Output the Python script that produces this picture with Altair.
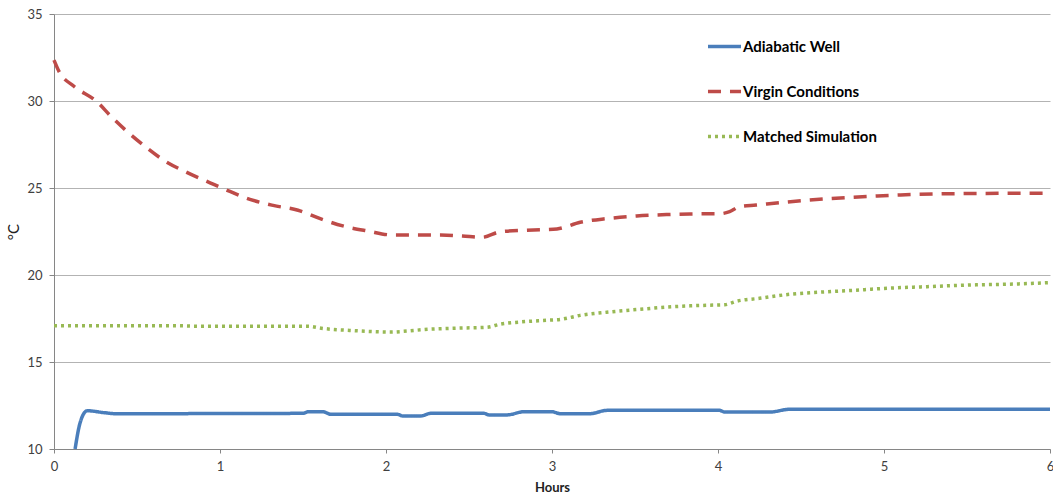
import altair as alt
import pandas as pd

# Adiabatic Well (hours, °C)
adiabatic_h = [0.127, 0.157, 0.20, 0.30, 0.37, 1.50, 1.53, 1.62, 1.67, 2.07, 2.10, 2.21,
               2.27, 2.59, 2.62, 2.73, 2.83, 3.00, 3.05, 3.23, 3.33, 4.01, 4.04, 4.31,
               4.43, 6.00]
adiabatic_t = [10.0, 11.5, 12.2, 12.09, 12.03, 12.05, 12.14, 12.14, 11.99, 11.99, 11.9, 11.9,
               12.05, 12.05, 11.96, 11.96, 12.14, 12.14, 12.03, 12.03, 12.22, 12.22, 12.12, 12.12,
               12.28, 12.28]

# Virgin Conditions
virgin_h = [0.00, 0.03, 0.12, 0.26, 0.34, 0.44, 0.56, 0.66, 0.80, 0.94, 1.06, 1.18, 1.32,
            1.47, 1.60, 1.74, 1.89, 2.04, 2.16, 2.33, 2.46, 2.58, 2.69, 2.89, 3.03, 3.17,
            3.33, 3.51, 3.69, 3.83, 4.01, 4.07, 4.13, 4.23, 4.37, 4.53, 4.67, 4.81, 4.96,
            5.10, 5.50, 6.00]
virgin_t = [32.35, 31.7, 30.85, 29.95, 29.15, 28.25, 27.3, 26.6, 25.9, 25.3, 24.8, 24.35, 24.0,
            23.72, 23.25, 22.82, 22.53, 22.3, 22.3, 22.3, 22.24, 22.17, 22.49, 22.59, 22.65, 23.03,
            23.24, 23.39, 23.47, 23.51, 23.52, 23.64, 23.93, 24.02, 24.15, 24.29, 24.39, 24.47, 24.54,
            24.60, 24.68, 24.70]

# Matched Simulation
matched_h = [0.00, 0.70, 0.90, 1.53, 1.61, 1.81, 2.03, 2.13, 2.25, 2.41, 2.61, 2.69, 2.81,
             2.97, 3.05, 3.17, 3.33, 3.53, 3.73, 3.93, 4.04, 4.11, 4.25, 4.41, 4.61, 4.82,
             5.02, 5.26, 5.54, 5.78, 6.00]
matched_t = [17.09, 17.09, 17.05, 17.05, 16.94, 16.80, 16.72, 16.78, 16.88, 16.94, 17.0, 17.18, 17.30,
             17.40, 17.45, 17.68, 17.86, 18.03, 18.18, 18.26, 18.29, 18.49, 18.66, 18.87, 19.01, 19.12,
             19.24, 19.33, 19.43, 19.48, 19.56]

series_names = ["Adiabatic Well", "Virgin Conditions", "Matched Simulation"]
series_colors = ["#4A7EBB", "#BE4B48", "#98B954"]
series_dashes = [[1, 0], [13, 9], [3, 4]]

x_ticks = [0, 1, 2, 3, 4, 5, 6]
y_ticks = [10, 15, 20, 25, 30, 35]

frames = []
for name, hs, ts in zip(series_names,
                        [adiabatic_h, virgin_h, matched_h],
                        [adiabatic_t, virgin_t, matched_t]):
    frames.append(pd.DataFrame({"series": name, "hours": hs, "temp": ts,
                                "order": range(len(hs))}))
df = pd.concat(frames, ignore_index=True)

FONT = "Lato"

legend = alt.Legend(
    title=None,
    orient="none",
    legendX=652,
    legendY=14,
    symbolType="stroke",
    symbolSize=1090,
    symbolStrokeWidth=3.5,
    labelFont=FONT,
    labelFontSize=15,
    labelFontWeight="bold",
    labelColor="#000000",
    labelOffset=0,
    rowPadding=18,
    labelLimit=300,
)

chart = alt.Chart(df).mark_line(strokeWidth=3.5, interpolate="monotone").encode(
    x=alt.X("hours:Q",
            scale=alt.Scale(domain=[0, 6], nice=False, zero=False),
            axis=alt.Axis(values=x_ticks, title="Hours", grid=False, format="d",
                          tickSize=4, labelPadding=7, titlePadding=8,
                          labelFlush=False)),
    y=alt.Y("temp:Q",
            scale=alt.Scale(domain=[10, 35], nice=False, zero=False),
            axis=alt.Axis(values=y_ticks, title="°C", grid=True, format="d",
                          tickSize=5, labelPadding=7, titlePadding=5,
                          titleFontWeight="normal", titleFontSize=15,
                          labelFlush=False)),
    color=alt.Color("series:N",
                    scale=alt.Scale(domain=series_names, range=series_colors),
                    legend=legend),
    strokeDash=alt.StrokeDash("series:N",
                              scale=alt.Scale(domain=series_names, range=series_dashes),
                              legend=legend),
    order="order:Q",
).properties(
    width=996,
    height=435,
    autosize=alt.AutoSizeParams(type="none"),
    padding={"left": 54, "top": 14, "right": 3, "bottom": 48},
).configure_view(
    stroke=None
).configure_axis(
    labelFont=FONT,
    labelFontSize=13,
    labelColor="#404040",
    titleFont=FONT,
    titleFontSize=13,
    titleColor="#222222",
    titleFontWeight="bold",
    domainColor="#868686",
    tickColor="#868686",
    gridColor="#b3b3b3",
    gridWidth=1,
)

chart.save("out.html", embed_options={"renderer": "svg", "actions": False})
